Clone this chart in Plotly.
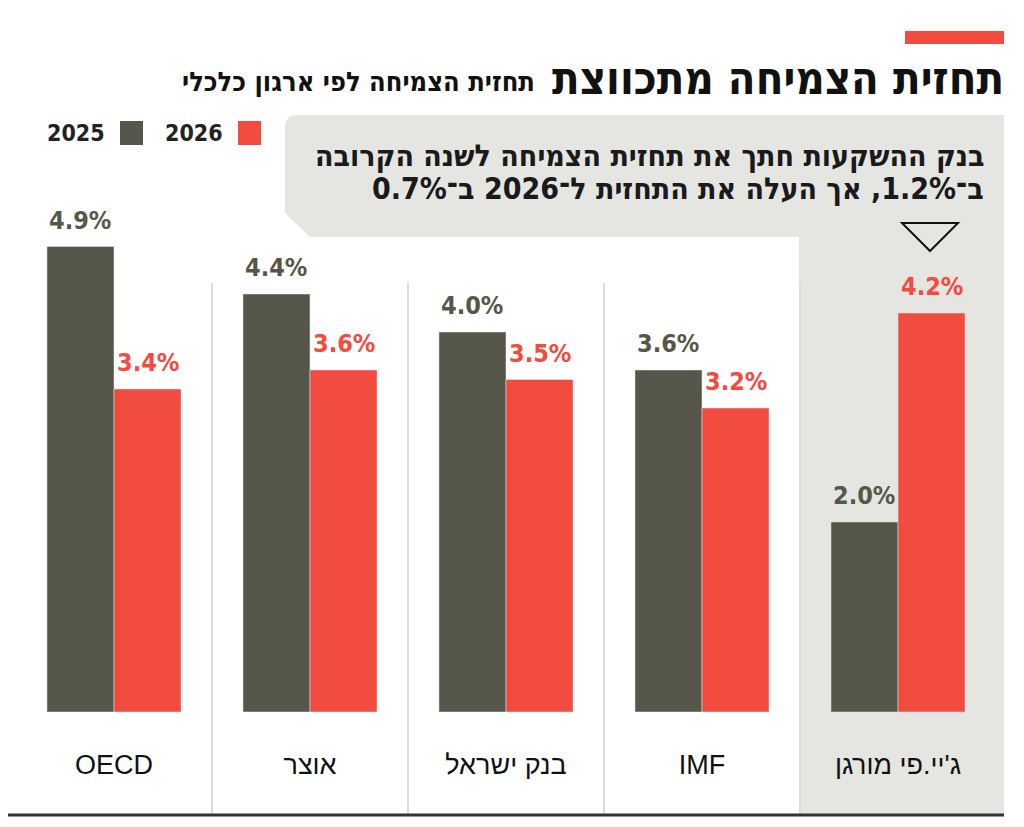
import plotly.graph_objects as go

# נתונים
orgs = ["OECD", "אוצר", "בנק ישראל", "IMF", "ג'יי.פי מורגן"]
growth_2025 = [4.9, 4.4, 4.0, 3.6, 2.0]
growth_2026 = [3.4, 3.6, 3.5, 3.2, 4.2]
years = ["2025", "2026"]

DARK = "#56574A"
RED = "#F24B3F"
GRAY_BG = "#E5E5E2"
# הדף מוסיף שוליים של 8px, לכן הגרף קטן ב-8px ומוזז
OFF = 8
W, H = 1024 - OFF, 827 - OFF

LABEL_FONT = "Liberation Sans Narrow, DejaVu Sans Condensed, sans-serif"
HEB_FONT = "DejaVu Sans Condensed, Liberation Sans, sans-serif"
CAT_FONT = "Liberation Sans, DejaVu Sans, sans-serif"


def px(x):
    return (x - OFF) / W


def py(y):
    return 1 - (y - OFF) / H


half = 0.171
xs = list(range(len(orgs)))

fig = go.Figure()
fig.add_trace(go.Bar(x=[i - half for i in xs], y=growth_2025, width=2 * half,
                     marker_color=DARK, name=years[0], showlegend=False))
fig.add_trace(go.Bar(x=[i + half for i in xs], y=growth_2026, width=2 * half,
                     marker_color=RED, name=years[1], showlegend=False))

# תוויות ערכים
for i in xs:
    for val, off, col in [(growth_2025[i], -half, DARK), (growth_2026[i], half, RED)]:
        fig.add_annotation(x=i + off, y=val, text=f"<b>{val:.1f}%</b>", showarrow=False,
                           yanchor="bottom", yshift=10,
                           font=dict(family=LABEL_FONT, size=25, color=col))

# רקע אפור: תיבת הערה + עמודת ג'יי.פי מורגן
path = (f"M {px(285)},{py(213)} L {px(285)},{py(128)} "
        f"Q {px(285)},{py(115)} {px(298)},{py(115)} "
        f"L {px(1004)},{py(115)} L {px(1004)},{py(815)} L {px(799)},{py(815)} "
        f"L {px(799)},{py(237)} L {px(310)},{py(237)} Z")
fig.add_shape(type="path", path=path, xref="paper", yref="paper",
              fillcolor=GRAY_BG, line_width=0, layer="below")

# קווי הפרדה
for i in xs[:-1]:
    fig.add_shape(type="line", xref="x", yref="paper", x0=i + 0.5, x1=i + 0.5,
                  y0=py(283), y1=py(815), line=dict(color="#DCDCD8", width=2), layer="below")

# קו תחתון
fig.add_shape(type="line", xref="paper", yref="paper", x0=px(5), x1=px(1004),
              y0=py(815), y1=py(815), line=dict(color="#333333", width=3))

# פס אדום בכותרת
fig.add_shape(type="rect", xref="paper", yref="paper", x0=px(905), x1=px(1004),
              y0=py(31), y1=py(44), fillcolor=RED, line_width=0)

# משולש
tri = f"M {px(902)},{py(223)} L {px(958)},{py(223)} L {px(930)},{py(251)} Z"
fig.add_shape(type="path", path=tri, xref="paper", yref="paper",
              line=dict(color="#111111", width=2), fillcolor="rgba(0,0,0,0)")

# מקרא
for (x0, col, lab) in [(120, DARK, years[0]), (238, RED, years[1])]:
    fig.add_shape(type="rect", xref="paper", yref="paper", x0=px(x0), x1=px(x0 + 23),
                  y0=py(145), y1=py(121), fillcolor=col, line_width=0)
    fig.add_annotation(xref="paper", yref="paper", x=px(x0 - 13), y=py(133),
                       xanchor="right", yanchor="middle", showarrow=False,
                       text=f"<b>{lab}</b>", font=dict(family=LABEL_FONT, size=23, color="#222"))

# כותרות
fig.add_annotation(xref="paper", yref="paper", x=px(1006), y=py(78), xanchor="right",
                   yanchor="middle", showarrow=False, text="<b>תחזית הצמיחה מתכווצת</b>",
                   font=dict(family=HEB_FONT, size=45, color="#111"))
fig.add_annotation(xref="paper", yref="paper", x=px(537), y=py(81), xanchor="right",
                   yanchor="middle", showarrow=False, text="<b>תחזית הצמיחה לפי ארגון כלכלי</b>",
                   font=dict(family=HEB_FONT, size=27, color="#111"))

# טקסט הערה
note_lines = ["בנק ההשקעות חתך את תחזית הצמיחה לשנה הקרובה",
              "ב־1.2%, אך העלה את התחזית ל־2026 ב־0.7%"]
for k, line in enumerate(note_lines):
    fig.add_annotation(xref="paper", yref="paper", x=px(986), y=py(155 + 33 * k),
                       xanchor="right", yanchor="middle", showarrow=False,
                       text=f"<b>{line}</b>",
                       font=dict(family=HEB_FONT, size=30, color="#1a1a1a"))

fig.update_layout(
    width=W, height=H,
    margin=dict(l=0, r=0, t=0, b=0),
    plot_bgcolor="rgba(0,0,0,0)",
    paper_bgcolor="white",
    barmode="overlay",
    showlegend=False,
    xaxis=dict(range=[-(114 - OFF) / 196, (1024 - 114) / 196], domain=[0, 1],
               tickvals=xs, ticktext=orgs,
               showgrid=False, zeroline=False, showline=False, ticks="outside", ticklen=29,
               tickcolor="rgba(0,0,0,0)",
               tickfont=dict(family=CAT_FONT, size=27, color="#111")),
    yaxis=dict(range=[0, (712 - OFF) / 95], domain=[py(712), 1], visible=False),
)

fig.write_html("out.html")
